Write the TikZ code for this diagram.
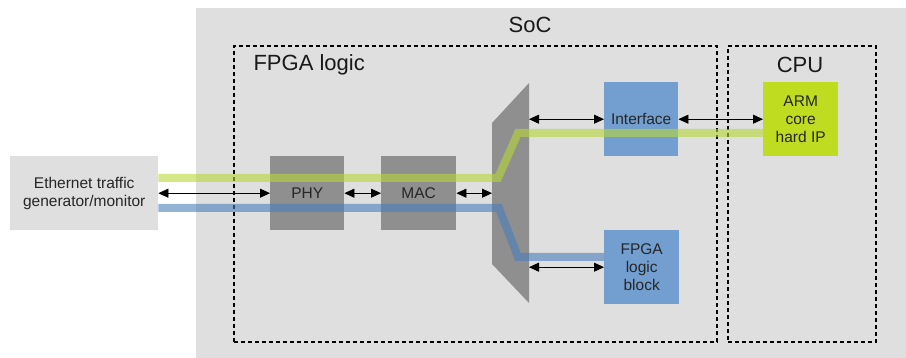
\documentclass[tikz,border=0pt]{standalone}
\usepackage{fontspec}
\setmainfont{Liberation Sans}
\usetikzlibrary{arrows.meta,positioning}

\definecolor{bgGray}{HTML}{DFDFDF}
\definecolor{blockGray}{HTML}{8F8F8F}
\definecolor{ifBlue}{HTML}{729FCF}
\definecolor{armGreen}{HTML}{BFDC21}
\definecolor{pathGreen}{HTML}{B8D838}
\definecolor{pathBlue}{HTML}{4A7EBB}

\tikzset{
	box/.style={inner sep=0pt, anchor=north west, align=center,
		font=\fontsize{15.5}{18}\selectfont, text=black!85},
	region/.style={box, draw=black, line width=1.8pt, dash pattern=on 4pt off 3pt},
	title/.style={font=\fontsize{22}{26}\selectfont, text=black!90},
	link/.style={{Triangle[length=10pt,width=9pt]}-{Triangle[length=10pt,width=9pt]}, line width=0.8pt},
	flow/.style={line width=8pt, opacity=0.6}
}

\begin{document}
\begin{tikzpicture}[x=1pt, y=-1pt]
			%%%%% START %%%%%
			\useasboundingbox (0,0) rectangle (906,358);
			
			\node[box, fill=bgGray, minimum width=710, minimum height=350] (soc) at (196,8) {};
			\node[title] (soctitle) at (530,25) {SoC};
			
			\node[region, minimum width=483, minimum height=296] (fpga) at (233,45) {};
			\node[region, minimum width=148, minimum height=296] (cpu) at (727,45) {};
			\node[title, anchor=west] (fpgatitle) at (250,65) {FPGA logic};
			\node[title] (cputitle) at (800,65) {CPU};
			
			\node[box, fill=bgGray, minimum width=148, minimum height=74] (eth) at (10,156) {Ethernet traffic\\generator/monitor};
			\node[box, fill=blockGray, minimum width=74, minimum height=74] (phy) at (270,156) {PHY};
			\node[box, fill=blockGray, minimum width=75, minimum height=74] (mac) at (381,156) {MAC};
			\node[box, fill=ifBlue, minimum width=74, minimum height=74] (iface) at (604,82) {Interface};
			\node[box, fill=ifBlue, minimum width=75, minimum height=74] (fblk) at (604,230) {FPGA\\logic\\block};
			\node[box, fill=armGreen, minimum width=75, minimum height=74] (arm) at (763,82) {ARM\\core\\hard IP};
			
			% switch
			\fill[blockGray] (492,123) -- (529,83) -- (529,303) -- (492,264) -- cycle;
			\coordinate (muxl) at (492,193);
			\coordinate (muxr) at (529,193);
			
			% traffic paths
			\draw[flow, pathGreen] (eth.east |- 0,178) -- (498,178) -- (518,133) -- (arm.west |- 0,133);
			\draw[flow, pathBlue] (eth.east |- 0,208) -- (499,208) -- (518,257) -- (fblk.west |- 0,257);
			
			\draw[link] (eth.east) -- (phy.west);
			\draw[link] (phy.east) -- (mac.west);
			\draw[link] (mac.east) -- (mac.east -| muxl);
			\draw[link] (iface.west -| muxr) -- (iface.west);
			\draw[link] (fblk.west -| muxr) -- (fblk.west);
			\draw[link] (iface.east) -- (arm.west);
			
			%%%%% END %%%%%
		\end{tikzpicture}
\end{document}
